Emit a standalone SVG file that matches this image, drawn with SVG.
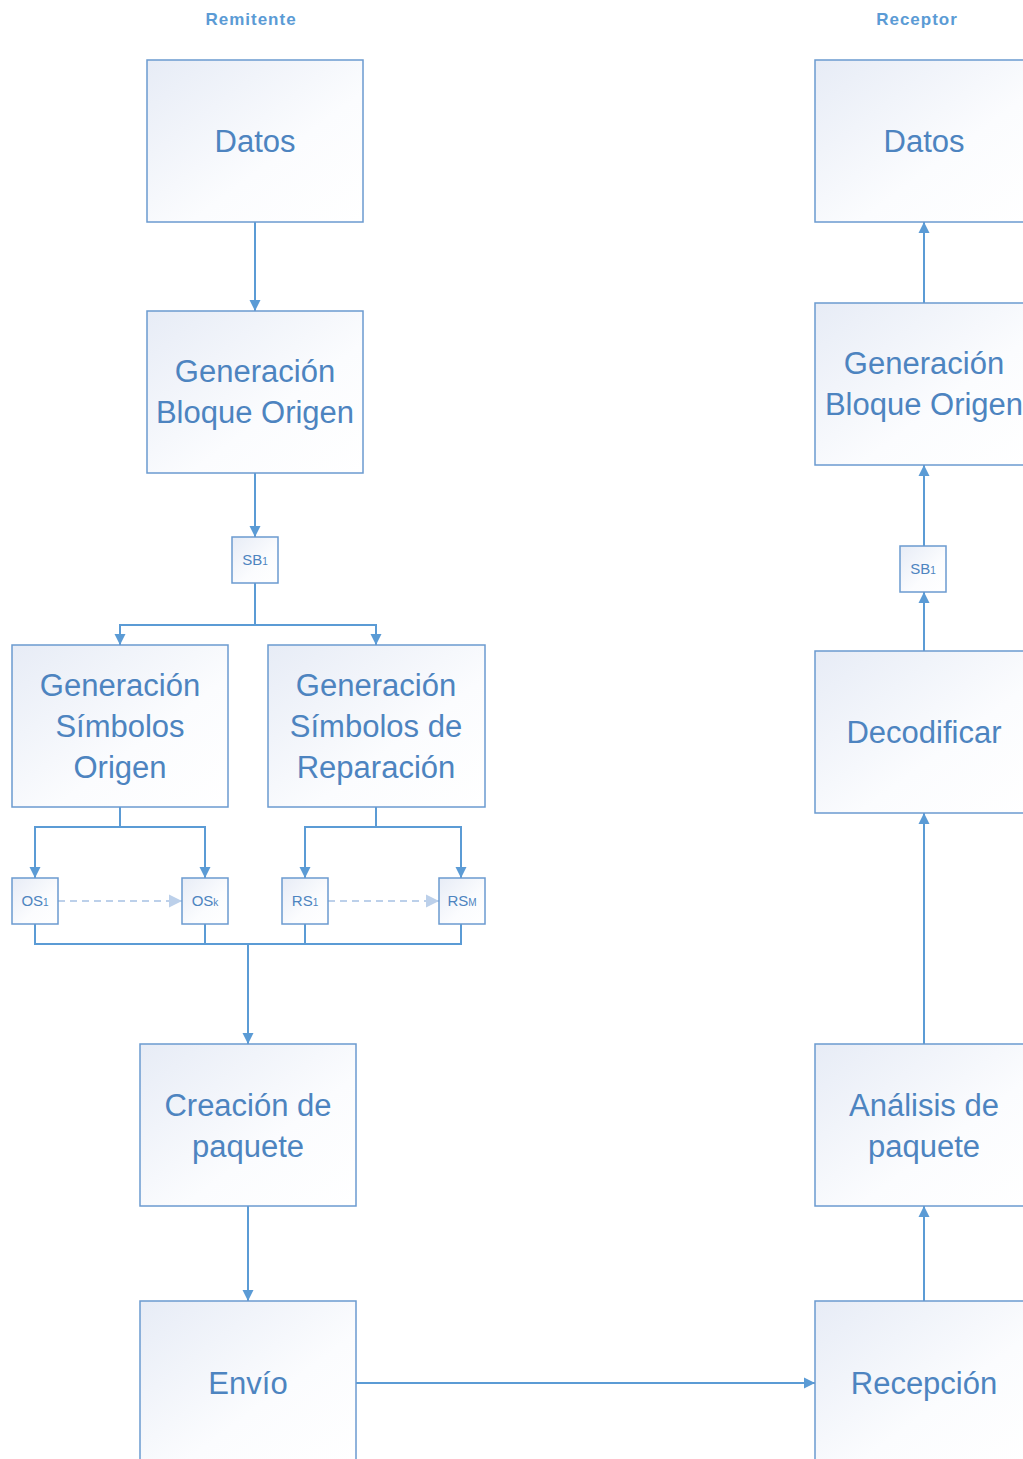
<svg xmlns="http://www.w3.org/2000/svg" width="1023" height="1459" viewBox="0 0 1023 1459">
<defs>
<linearGradient id="g" x1="0" y1="0" x2="1" y2="1">
<stop offset="0" stop-color="#e7ecf6"/>
<stop offset="0.6" stop-color="#fbfcfe"/>
<stop offset="1" stop-color="#ffffff"/>
</linearGradient>
<marker id="a" markerUnits="userSpaceOnUse" markerWidth="12" markerHeight="12" refX="11" refY="6" orient="auto">
<path d="M0,0.5 L11,6 L0,11.5 z" fill="#5b9bd5"/>
</marker>
<marker id="al" markerUnits="userSpaceOnUse" markerWidth="14" markerHeight="14" refX="13" refY="7" orient="auto">
<path d="M0,0.5 L13,7 L0,13.5 z" fill="#bcd0ea"/>
</marker>
<style>
.box{fill:url(#g);stroke:#6b9ad0;stroke-width:1.5}
.t{font-family:"Liberation Sans",Arial,sans-serif;font-size:31px;fill:#4d84c0;text-anchor:middle}
.s{font-family:"Liberation Sans",Arial,sans-serif;font-size:15px;fill:#4d84c0;text-anchor:middle}
.sub{font-size:10px}
.h{font-family:"Liberation Sans",Arial,sans-serif;font-size:17px;font-weight:bold;letter-spacing:1px;fill:#5b9bd5;text-anchor:middle}
.c{fill:none;stroke:#5b9bd5;stroke-width:2}
.ca{fill:none;stroke:#5b9bd5;stroke-width:2;marker-end:url(#a)}
.d{fill:none;stroke:#bcd0ea;stroke-width:2;stroke-dasharray:7,5;marker-end:url(#al)}
</style>
</defs>

<text class="h" x="251" y="25">Remitente</text>
<text class="h" x="917" y="25">Receptor</text>

<g id="connectors">
<path class="ca" d="M255,222 V311"/>
<path class="ca" d="M255,473 V537"/>
<path class="c" d="M255,583 V625 M120,625 H376"/>
<path class="ca" d="M120,624 V645"/>
<path class="ca" d="M376,624 V645"/>
<path class="c" d="M120,807 V827 M35,827 H205"/>
<path class="ca" d="M35,826 V878"/>
<path class="ca" d="M205,826 V878"/>
<path class="c" d="M376,807 V827 M305,827 H461"/>
<path class="ca" d="M305,826 V878"/>
<path class="ca" d="M461,826 V878"/>
<path class="d" d="M58,901 H182"/>
<path class="d" d="M328,901 H439"/>
<path class="c" d="M35,924 V944 M205,924 V944 M305,924 V944 M461,924 V944 M34,944 H462"/>
<path class="ca" d="M248,944 V1044"/>
<path class="ca" d="M248,1206 V1301"/>
<path class="ca" d="M356,1383 H815"/>
<path class="ca" d="M924,1301 V1206"/>
<path class="ca" d="M924,1044 V813"/>
<path class="ca" d="M924,651 V592"/>
<path class="ca" d="M924,546 V465"/>
<path class="ca" d="M924,303 V222"/>
</g>

<g id="datos-l"><rect class="box" x="147" y="60" width="216" height="162"/><text class="t" x="255" y="152">Datos</text></g>
<g id="gbo-l"><rect class="box" x="147" y="311" width="216" height="162"/><text class="t" x="255" y="382">Generación</text><text class="t" x="255" y="423">Bloque Origen</text></g>
<g id="sb1-l"><rect class="box" x="232" y="537" width="46" height="46"/><text class="s" x="255" y="565">SB<tspan class="sub">1</tspan></text></g>
<g id="gso"><rect class="box" x="12" y="645" width="216" height="162"/><text class="t" x="120" y="696">Generación</text><text class="t" x="120" y="737">Símbolos</text><text class="t" x="120" y="778">Origen</text></g>
<g id="gsr"><rect class="box" x="268" y="645" width="217" height="162"/><text class="t" x="376" y="696">Generación</text><text class="t" x="376" y="737">Símbolos de</text><text class="t" x="376" y="778">Reparación</text></g>
<g id="os1"><rect class="box" x="12" y="878" width="46" height="46"/><text class="s" x="35" y="906">OS<tspan class="sub">1</tspan></text></g>
<g id="osk"><rect class="box" x="182" y="878" width="46" height="46"/><text class="s" x="205" y="906">OS<tspan class="sub">k</tspan></text></g>
<g id="rs1"><rect class="box" x="282" y="878" width="46" height="46"/><text class="s" x="305" y="906">RS<tspan class="sub">1</tspan></text></g>
<g id="rsm"><rect class="box" x="439" y="878" width="46" height="46"/><text class="s" x="462" y="906">RS<tspan class="sub">M</tspan></text></g>
<g id="creacion"><rect class="box" x="140" y="1044" width="216" height="162"/><text class="t" x="248" y="1116">Creación de</text><text class="t" x="248" y="1157">paquete</text></g>
<g id="envio"><rect class="box" x="140" y="1301" width="216" height="162"/><text class="t" x="248" y="1394">Envío</text></g>

<g id="datos-r"><rect class="box" x="815" y="60" width="217" height="162"/><text class="t" x="924" y="152">Datos</text></g>
<g id="gbo-r"><rect class="box" x="815" y="303" width="217" height="162"/><text class="t" x="924" y="374">Generación</text><text class="t" x="924" y="415">Bloque Origen</text></g>
<g id="sb1-r"><rect class="box" x="900" y="546" width="46" height="46"/><text class="s" x="923" y="574">SB<tspan class="sub">1</tspan></text></g>
<g id="decodificar"><rect class="box" x="815" y="651" width="217" height="162"/><text class="t" x="924" y="743">Decodificar</text></g>
<g id="analisis"><rect class="box" x="815" y="1044" width="217" height="162"/><text class="t" x="924" y="1116">Análisis de</text><text class="t" x="924" y="1157">paquete</text></g>
<g id="recepcion"><rect class="box" x="815" y="1301" width="217" height="162"/><text class="t" x="924" y="1394">Recepción</text></g>
</svg>
